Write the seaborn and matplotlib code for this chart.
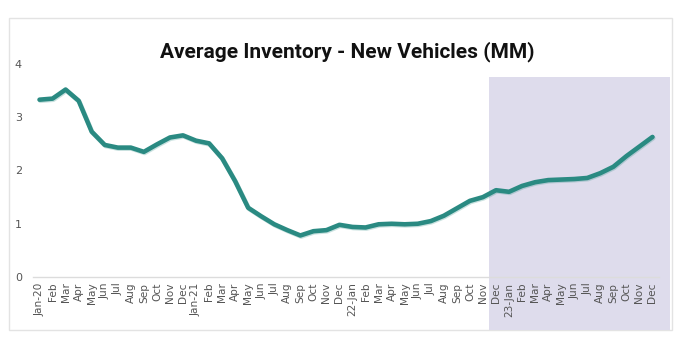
import matplotlib
matplotlib.use("Agg")
import matplotlib.pyplot as plt
import matplotlib.patheffects as pe
from matplotlib.patches import Rectangle
import seaborn as sns
import pandas as pd

month_labels = ["Jan-20", "Feb", "Mar", "Apr", "May", "Jun", "Jul", "Aug", "Sep", "Oct", "Nov", "Dec",
                "Jan-21", "Feb", "Mar", "Apr", "May", "Jun", "Jul", "Aug", "Sep", "Oct", "Nov", "Dec",
                "22-Jan", "Feb", "Mar", "Apr", "May", "Jun", "Jul", "Aug", "Sep", "Oct", "Nov", "Dec",
                "23-Jan", "Feb", "Mar", "Apr", "May", "Jun", "Jul", "Aug", "Sep", "Oct", "Nov", "Dec"]
inventory_mm = [3.33, 3.35, 3.52, 3.31, 2.73, 2.48, 2.43, 2.43, 2.35, 2.49, 2.62, 2.66,
                2.56, 2.51, 2.23, 1.80, 1.30, 1.14, 0.99, 0.88, 0.78, 0.86, 0.88, 0.98,
                0.94, 0.93, 0.99, 1.00, 0.99, 1.00, 1.05, 1.15, 1.29, 1.43, 1.50, 1.63,
                1.60, 1.71, 1.78, 1.82, 1.83, 1.84, 1.86, 1.95, 2.07, 2.27, 2.45, 2.63]
y_ticks = [0, 1, 2, 3, 4]
shade_start = 34.5  # between Nov-22 and Dec-22
title = "Average Inventory - New Vehicles (MM)"

df = pd.DataFrame({"idx": range(len(month_labels)), "value": inventory_mm})

sns.set_theme(style="white")
plt.rcParams["font.family"] = ["DejaVu Sans"]

W, H = 685, 362
fig = plt.figure(figsize=(W / 100, H / 100), dpi=100)
fig.patch.set_facecolor("white")

# outer frame
frame = Rectangle((8.5 / W, 1 - 330 / H), (671.5 - 8.5) / W, (330 - 18) / H,
                  transform=fig.transFigure, facecolor="white", edgecolor="#e3e3e3",
                  linewidth=1.0, zorder=-3)
fig.patches.append(frame)

ax = fig.add_axes([33 / W, 1 - 277 / H, 626 / W, 213 / H])
ax.set_facecolor("none")

sns.lineplot(data=df, x="idx", y="value", ax=ax, color="#2a8a82", linewidth=3.3,
             path_effects=[pe.SimpleLineShadow(offset=(0.6, -0.8), shadow_color="#2a8a82", alpha=0.25),
                           pe.Normal()])

ax.set_xlim(-0.5, len(month_labels) - 0.5)
ax.set_ylim(0, 4)
ax.set_xticks(range(len(month_labels)))
ax.set_xticklabels(month_labels, rotation=90, fontsize=7.6, color="#555555")
ax.set_yticks(y_ticks)
ax.set_yticklabels([str(t) for t in y_ticks], fontsize=8, color="#555555")
ax.tick_params(axis="both", length=0)
ax.tick_params(axis="x", pad=4)
ax.tick_params(axis="y", pad=8)
ax.set_xlabel("")
ax.set_ylabel("")
for s in ["top", "right", "left"]:
    ax.spines[s].set_visible(False)
ax.spines["bottom"].set_color("#dcdcdc")
ax.spines["bottom"].set_linewidth(1.0)

# shaded forecast region, spanning beyond the axes down to the frame bottom
fig.canvas.draw()
x0_pix = ax.transData.transform((shade_start, 0))[0]
shade = Rectangle((x0_pix / W, 1 - 330 / H), (670 - x0_pix) / W, (330 - 77) / H,
                  transform=fig.transFigure, facecolor="#dedcec", edgecolor="none", zorder=-2)
fig.patches.append(shade)

fig.text(347 / W, 1 - 52 / H, title, ha="center", va="center", fontsize=15,
         fontweight="bold", color="#111111", family=["Roboto", "DejaVu Sans"])

fig.savefig("out.png", dpi=100, facecolor="white")
